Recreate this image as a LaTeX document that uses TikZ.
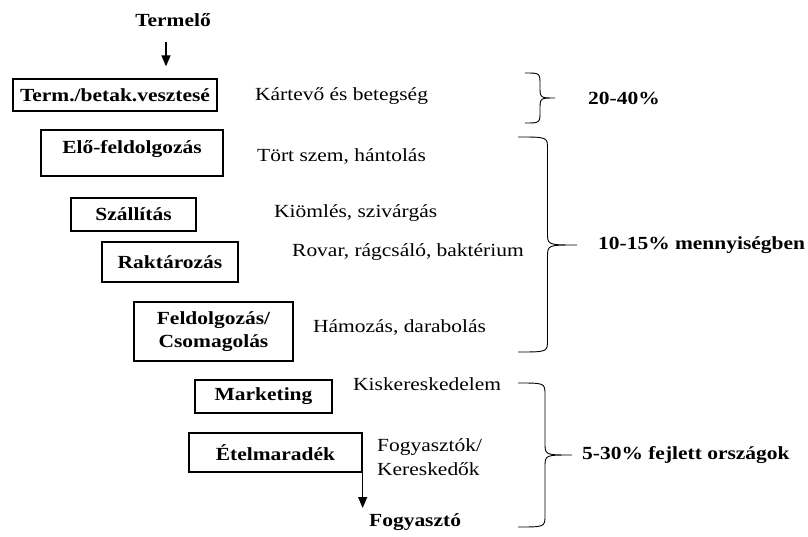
\documentclass[tikz,border=0pt]{standalone}
\usepackage{fontspec}
\setmainfont[FakeStretch=1.16]{Liberation Serif}
\usetikzlibrary{arrows.meta,positioning,calc}

% curly bracket: x, top, bottom, middle, depth
\newcommand{\lossbrace}[5]{%
  \draw[bracket] (#1,#2) .. controls (#1+#5,#2) .. (#1+#5,#2+12)
    -- (#1+#5,#4-12) .. controls (#1+#5,#4) .. (#1+2*#5,#4)
    .. controls (#1+#5,#4) .. (#1+#5,#4+12)
    -- (#1+#5,#3-12) .. controls (#1+#5,#3) .. (#1,#3);}

\begin{document}
\begin{tikzpicture}[
      x=1pt,y=-1pt,
      font=\fontsize{18.5}{24}\selectfont,
      stage/.style = {draw,rectangle,line width=1.3pt,inner sep=0,align=center,font=\fontsize{18.5}{23}\selectfont\bfseries},
      loss/.style = {anchor=west,inner sep=0,align=left},
      rate/.style = {anchor=west,inner sep=0,font=\fontsize{18.5}{24}\selectfont\bfseries},
      arrow/.style = {line width=1.3pt,-{Triangle[length=11pt,width=9pt]}},
      bracket/.style = {line width=0.9pt}
    ]
      \useasboundingbox (0,0) rectangle (808,537);

      \node (termelo)[inner sep=0,font=\fontsize{18.5}{24}\selectfont\bfseries] at (173,20) {Termelő};
      \node (box1)[stage,minimum width=204,minimum height=32] at (115,95) {Term./betak.vesztesé};
      \node (box2)[stage,minimum width=182,minimum height=46,text depth=13pt] at (132,153) {Elő-feldolgozás};
      \node (box3)[stage,minimum width=125,minimum height=33] at (133.5,214.5) {Szállítás};
      \node (box4)[stage,minimum width=136,minimum height=40] at (170,262) {Raktározás};
      \node (box5)[stage,minimum width=159,minimum height=59] at (213.5,331.5) {Feldolgozás/\\Csomagolás};
      \node (box6)[stage,minimum width=137,minimum height=33] at (263.5,396.5) {Marketing};
      \node (box7)[stage,minimum width=173,minimum height=39] at (275.5,452.5) {Ételmaradék};
      \node (fogyaszto)[rate] at (369,522) {Fogyasztó};

      \node (loss1)[loss] at (255,96) {Kártevő és betegség};
      \node (loss2)[loss] at (257,156) {Tört szem, hántolás};
      \node (loss3)[loss] at (274,213) {Kiömlés, szivárgás};
      \node (loss4)[loss] at (292,252) {Rovar, rágcsáló, baktérium};
      \node (loss5)[loss] at (313,327) {Hámozás, darabolás};
      \node (loss6)[loss] at (353,384) {Kiskereskedelem};
      \node (loss7)[loss] at (377,457) {Fogyasztók/\\Kereskedők};

      \lossbrace{525}{73}{123}{98}{15}
      \lossbrace{518}{137}{352}{245}{29.5}
      \lossbrace{518}{383}{527}{455}{27}

      \node (rate1)[rate] at (588,98) {20-40\%};
      \node (rate2)[rate] at (598,245) {10-15\% mennyiségben};
      \node (rate3)[rate] at (582,455) {5-30\% fejlett országok};

      \coordinate (fogyin) at (box7.south east |- 0,508);
      \draw [arrow,shorten <=15pt,shorten >=12pt] ([xshift=-7pt]termelo.south) -- ([xshift=-7pt]termelo.south |- box1.north);
      \draw [arrow] (box7.south east) -- (fogyin);
    \end{tikzpicture}
\end{document}
